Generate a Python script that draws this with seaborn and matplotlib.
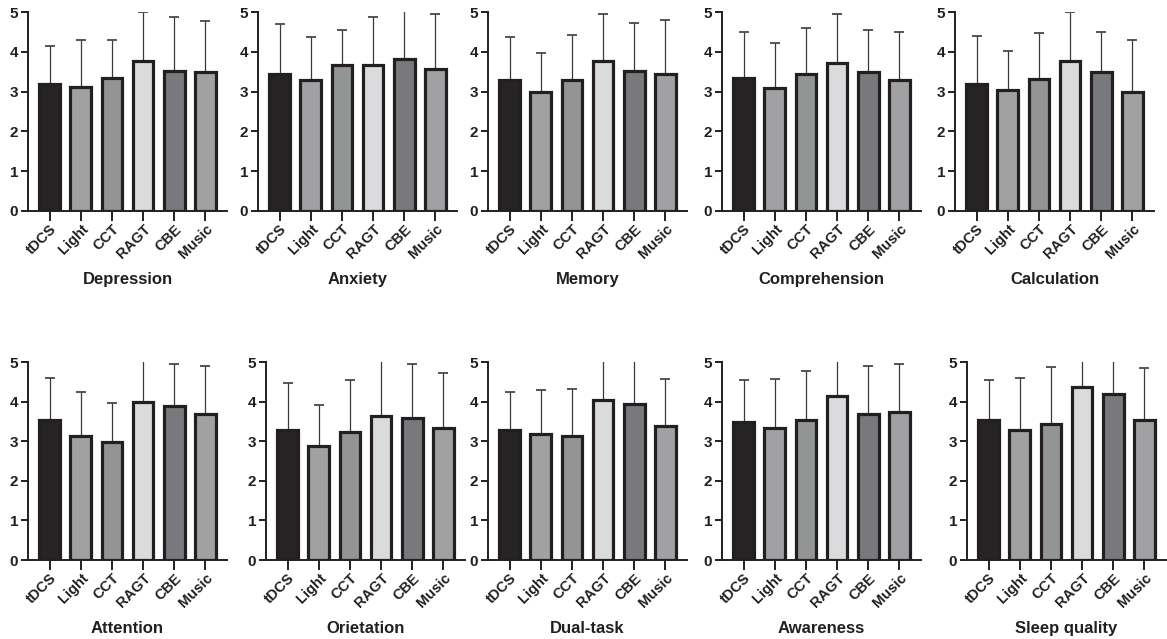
import matplotlib
matplotlib.use("Agg")
import matplotlib.pyplot as plt
import seaborn as sns
import pandas as pd

# groups and colours
groups = ["tDCS", "Light", "CCT", "RAGT", "CBE", "Music"]
bar_colors = ["#262324", "#a1a0a5", "#939494", "#dadbdc", "#78797c", "#a1a0a5"]

# panel names (top row then bottom row)
outcomes = ["Depression", "Anxiety", "Memory", "Comprehension", "Calculation",
            "Attention", "Orietation", "Dual-task", "Awareness", "Sleep quality"]

# means
means_depression = [3.20, 3.12, 3.33, 3.78, 3.53, 3.49]
means_anxiety = [3.43, 3.28, 3.68, 3.68, 3.83, 3.58]
means_memory = [3.28, 2.98, 3.28, 3.78, 3.53, 3.43]
means_comprehension = [3.34, 3.08, 3.43, 3.73, 3.48, 3.28]
means_calculation = [3.18, 3.03, 3.32, 3.78, 3.48, 2.99]
means_attention = [3.54, 3.13, 2.99, 3.98, 3.88, 3.68]
means_orietation = [3.29, 2.89, 3.23, 3.63, 3.58, 3.33]
means_dualtask = [3.29, 3.18, 3.13, 4.03, 3.93, 3.38]
means_awareness = [3.49, 3.33, 3.53, 4.13, 3.68, 3.73]
means_sleep = [3.53, 3.28, 3.43, 4.38, 4.18, 3.53]

# top of the (upper-only) error bars; values above 5 are cut off by the axis
upper_depression = [4.15, 4.29, 4.29, 5.00, 4.87, 4.77]
upper_anxiety = [4.69, 4.38, 4.56, 4.87, 5.20, 4.94]
upper_memory = [4.38, 3.97, 4.43, 4.94, 4.73, 4.80]
upper_comprehension = [4.49, 4.22, 4.59, 4.96, 4.55, 4.51]
upper_calculation = [4.39, 4.03, 4.48, 5.00, 4.49, 4.29]
upper_attention = [4.59, 4.23, 3.97, 5.20, 4.96, 4.91]
upper_orietation = [4.47, 3.91, 4.54, 5.20, 4.94, 4.72]
upper_dualtask = [4.23, 4.30, 4.33, 5.20, 5.20, 4.58]
upper_awareness = [4.55, 4.57, 4.78, 5.20, 4.91, 4.96]
upper_sleep = [4.54, 4.60, 4.88, 5.20, 5.20, 4.85]

all_means = [means_depression, means_anxiety, means_memory, means_comprehension,
             means_calculation, means_attention, means_orietation, means_dualtask,
             means_awareness, means_sleep]
all_upper = [upper_depression, upper_anxiety, upper_memory, upper_comprehension,
             upper_calculation, upper_attention, upper_orietation, upper_dualtask,
             upper_awareness, upper_sleep]

sns.set_theme(style="ticks")
plt.rcParams["font.family"] = ["Liberation Sans", "DejaVu Sans"]
plt.rcParams["font.weight"] = "bold"

W, H = 1167, 639
fig = plt.figure(figsize=(W / 100, H / 100), dpi=100)

# axes boxes in pixels: (left, top, width, height)
top_lefts = [28, 258, 488, 722, 955]
bot_lefts = [28, 266, 488, 722, 967]
boxes = [(l, 12, 199, 199) for l in top_lefts] + [(l, 362, 199, 198) for l in bot_lefts]

ink = "#231f20"

for name, means, upper, (l, t, w, h) in zip(outcomes, all_means, all_upper, boxes):
    ax = fig.add_axes([l / W, 1 - (t + h) / H, w / W, h / H])
    df = pd.DataFrame({"group": groups, "mean": means, "upper": upper})
    sns.barplot(data=df, x="group", y="mean", hue="group", palette=bar_colors,
                order=groups, hue_order=groups, legend=False, width=0.67,
                edgecolor=ink, linewidth=2.3, errorbar=None, ax=ax, zorder=3)
    err = (df["upper"] - df["mean"]).to_numpy()
    ax.errorbar(range(len(groups)), df["mean"], yerr=[[0] * len(groups), err],
                fmt="none", ecolor="#3a3a3a", elinewidth=0.9, capsize=3.6,
                capthick=1.2, zorder=2)
    ax.set_ylim(0, 5)
    ax.set_xlim(-0.7, 5.7)
    ax.set_yticks([0, 1, 2, 3, 4, 5])
    ax.set_ylabel("")
    ax.set_xlabel(name, fontsize=12, fontweight="bold", color=ink, labelpad=8)
    sns.despine(ax=ax)
    for s in ["left", "bottom"]:
        ax.spines[s].set_linewidth(1.4)
        ax.spines[s].set_color(ink)
    ax.tick_params(axis="y", length=5, width=1.4, color=ink, pad=2,
                   labelsize=11, labelcolor=ink)
    ax.tick_params(axis="x", length=7, width=1.4, color=ink, pad=1,
                   labelsize=10.5, labelcolor=ink)
    for lab in ax.get_xticklabels():
        lab.set_rotation(45)
        lab.set_ha("right")
        lab.set_rotation_mode("anchor")
        lab.set_fontweight("bold")
    for lab in ax.get_yticklabels():
        lab.set_fontweight("bold")

fig.savefig("out.png", dpi=100, facecolor="white")
